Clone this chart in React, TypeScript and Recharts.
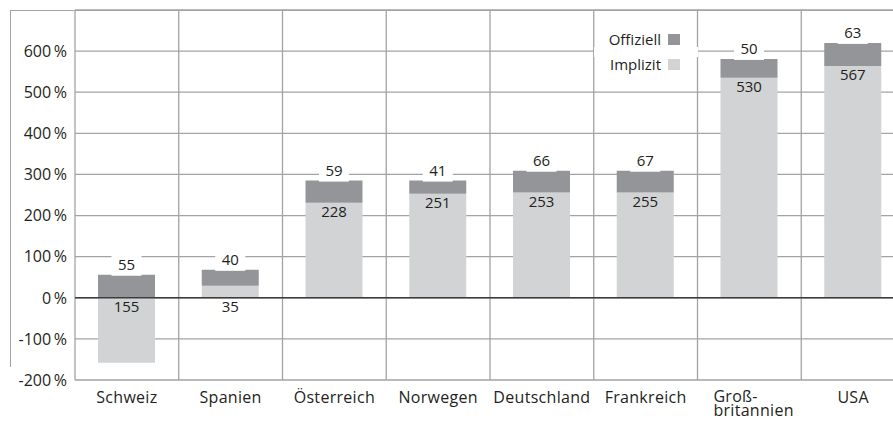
import React from 'react';
import {
  BarChart, Bar, XAxis, YAxis, CartesianGrid, ReferenceLine, LabelList, Legend,
} from 'recharts';

const categories = ['Schweiz', 'Spanien', 'Österreich', 'Norwegen', 'Deutschland', 'Frankreich', 'Groß-\nbritannien', 'USA'];
const implicitValues = [-158, 29, 231, 253, 256, 256, 535, 564];
const officialValues = [56, 39, 54, 32, 53, 53, 46, 56];
const implicitLabels = ['155', '35', '228', '251', '253', '255', '530', '567'];
const officialLabels = ['55', '40', '59', '41', '66', '67', '50', '63'];
const yTicks = [-200, -100, 0, 100, 200, 300, 400, 500, 600];

const data = categories.map((c, i) => ({
  name: c,
  implicit: implicitValues[i],
  official: officialValues[i],
  implicitLabel: implicitLabels[i],
  officialLabel: officialLabels[i],
}));

const FONT = "'Open Sans', sans-serif";
const TEXT = '#231f20';
const GRID = '#a3a3a3';
const DARK = '#939598';
const LIGHT = '#d1d3d4';

const YTick = (props: any) => {
  const { x, y, payload } = props;
  return (
    <text x={x} y={y} dy="0.36em" textAnchor="end" fontFamily={FONT} fontSize={16} fill={TEXT}>
      {`${payload.value}\u2009%`}
    </text>
  );
};

const XTick = (props: any) => {
  const { x, y, payload } = props;
  const lines = String(payload.value).split('\n');
  if (lines.length === 1) {
    return (
      <text x={x} y={y + 15} textAnchor="middle" fontFamily={FONT} fontSize={16} letterSpacing={0.3} fill={TEXT}>
        {lines[0]}
      </text>
    );
  }
  return (
    <text x={x - 36} y={y + 14} textAnchor="start" fontFamily={FONT} fontSize={16} letterSpacing={0.3} fill={TEXT}>
      {lines.map((l, i) => (
        <tspan key={i} x={x - 36} dy={i === 0 ? 0 : 14}>{l}</tspan>
      ))}
    </text>
  );
};

const OfficialLabel = (props: any) => {
  const { x, y, width, height, value } = props;
  const top = Math.min(y, y + height);
  const cx = x + width / 2;
  const cy = top - 10;
  return (
    <g>
      <rect x={cx - 15} y={top - 19} width={30} height={20} fill="#fff" />
      <text x={cx} y={cy} dy="0.36em" textAnchor="middle" fontFamily={FONT} fontSize={15} fill={TEXT}>
        {value}
      </text>
    </g>
  );
};

const ImplicitLabel = (props: any) => {
  const { x, y, width, height, value } = props;
  const top = Math.min(y, y + height);
  const bottom = Math.max(y, y + height);
  const h = bottom - top;
  const cx = x + width / 2;
  const cy = h < 20 ? bottom + 9 : top + 9;
  return (
    <text x={cx} y={cy} dy="0.36em" textAnchor="middle" fontFamily={FONT} fontSize={15} fill={TEXT}>
      {value}
    </text>
  );
};

const renderLegend = (props: any) => {
  const items = [...(props.payload || [])].reverse();
  return (
    <div style={{ position: 'relative', width: 104, height: 50, fontFamily: FONT }}>
      <div style={{ position: 'absolute', left: 0, top: 19, width: 104, height: 10, background: '#fff' }} />
      {items.map((it: any, i: number) => (
        <div
          key={i}
          style={{
            position: 'absolute', right: 18, top: i * 25, height: 22, display: 'flex',
            alignItems: 'center', gap: 7, fontSize: 15, color: TEXT, whiteSpace: 'nowrap',
          }}
        >
          <span>{it.value}</span>
          <span style={{ display: 'inline-block', width: 12, height: 11, background: it.color }} />
        </div>
      ))}
    </div>
  );
};

const verticalGen = (props: any) => {
  const { offset } = props;
  const n = categories.length;
  const out: number[] = [];
  for (let i = 0; i <= n; i++) out.push(offset.left + (i * offset.width) / n);
  return out;
};

export default function App() {
  return (
    <div style={{ position: 'absolute', left: 0, top: 0, width: 893, height: 421, overflow: 'hidden', background: '#fff' }}>
      <div
        style={{
          position: 'absolute', left: 10, top: 10, width: 900, height: 357,
          borderTop: `1px solid ${GRID}`, borderLeft: `1px solid ${GRID}`, boxSizing: 'border-box',
        }}
      />
      <BarChart
        width={905}
        height={421}
        data={data}
        stackOffset="sign"
        margin={{ top: 10, right: 0, left: 0, bottom: 0 }}
        style={{ position: 'absolute', left: 0, top: 0 }}
      >
        <CartesianGrid stroke={GRID} strokeWidth={1.3} verticalCoordinatesGenerator={verticalGen} />
        <XAxis dataKey="name" axisLine={false} tickLine={false} height={41} tick={<XTick />} interval={0} />
        <YAxis
          width={75}
          domain={[-200, 700]}
          ticks={yTicks}
          axisLine={false}
          tickLine={false}
          tick={<YTick />}
          interval={0}
        />
        <Legend
          layout="horizontal"
          verticalAlign="middle"
          align="center"
          content={renderLegend}
          wrapperStyle={{ left: 594, top: 28, width: 104, height: 50 }}
        />
        <Bar dataKey="implicit" name="Implizit" stackId="a" fill={LIGHT} barSize={57} isAnimationActive={false}>
          <LabelList dataKey="implicitLabel" content={<ImplicitLabel />} />
        </Bar>
        <Bar dataKey="official" name="Offiziell" stackId="a" fill={DARK} barSize={57} isAnimationActive={false}>
          <LabelList dataKey="officialLabel" content={<OfficialLabel />} />
        </Bar>
        <ReferenceLine y={0} stroke="#3c3c3c" strokeWidth={1.5} />
      </BarChart>
    </div>
  );
}
